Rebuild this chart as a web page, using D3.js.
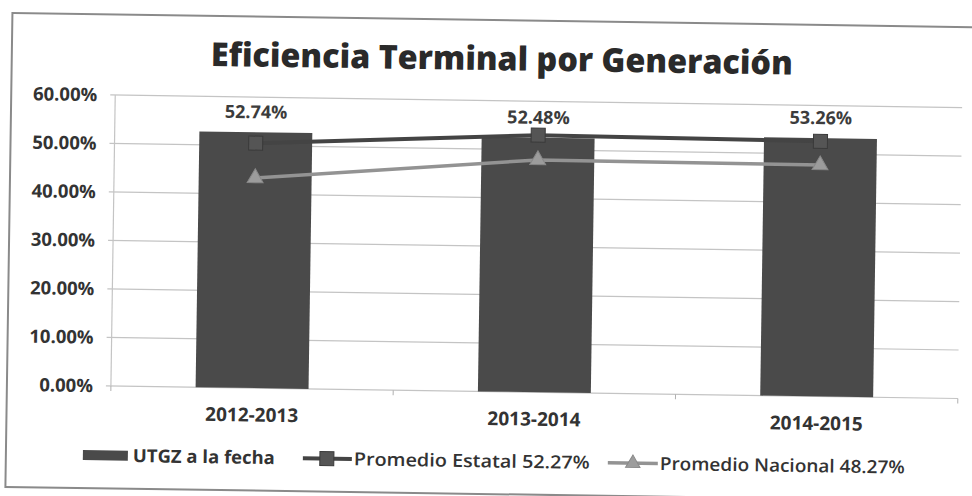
<!DOCTYPE html>
<html>
<head>
<meta charset="utf-8">
<script src="https://cdn.jsdelivr.net/npm/d3@7/dist/d3.min.js"></script>
<style>
  html, body { margin: 0; padding: 0; background: #ffffff; }
  svg { display: block; }
  text { font-family: "Open Sans", "DejaVu Sans", sans-serif; }
</style>
</head>
<body>
<svg id="chart" width="972" height="496"></svg>
<script>
// ---- data ----
const title = "Eficiencia Terminal por Generación";
const categories = ["2012-2013", "2013-2014", "2014-2015"];
const utgz = [52.74, 52.48, 53.26];
const estatal = [50.5, 53.0, 52.6];
const nacional = [43.3, 47.9, 47.7];
const yTicks = [0, 10, 20, 30, 40, 50, 60];
const legendLabels = ["UTGZ a la fecha", "Promedio Estatal 52.27%", "Promedio Nacional 48.27%"];

// ---- layout ----
const W = 972, H = 496;
const plot = { left: 113, right: 960, top: 100.5, bottom: 391.5 };
const cBar = "#4a4a4a", cEst = "#444444", cNac = "#939393", cText = "#333333";

const svg = d3.select("#chart");
// scanned page is slightly tilted
const root = svg.append("g").attr("transform", "rotate(0.85," + W / 2 + "," + H / 2 + ")");

// frame
root.append("rect").attr("x", 9).attr("y", 20).attr("width", 1030).attr("height", 474)
  .attr("fill", "none").attr("stroke", "#8a8a8a").attr("stroke-width", 2);

const x = d3.scaleBand().domain(categories).range([plot.left, plot.right])
  .paddingInner(0.6).paddingOuter(0.3);
const y = d3.scaleLinear().domain([0, 60]).range([plot.bottom, plot.top]);

// title
root.append("text").attr("x", 499).attr("y", 70).attr("text-anchor", "middle")
  .attr("font-size", 33).attr("font-weight", 800).attr("fill", "#2a2a2a")
  .attr("textLength", 582).attr("lengthAdjust", "spacingAndGlyphs")
  .text(title);

// gridlines
root.append("g").selectAll("line").data(yTicks).join("line")
  .attr("x1", plot.left - 5).attr("x2", plot.right)
  .attr("y1", d => y(d)).attr("y2", d => y(d))
  .attr("stroke", "#c4c4c4").attr("stroke-width", 1.2);

// y axis line
root.append("line").attr("x1", plot.left).attr("x2", plot.left)
  .attr("y1", plot.top).attr("y2", plot.bottom)
  .attr("stroke", "#c4c4c4").attr("stroke-width", 1.2);

// y tick labels
root.append("g").selectAll("text").data(yTicks).join("text")
  .attr("x", 95).attr("y", d => y(d)).attr("dy", "0.35em")
  .attr("text-anchor", "end").attr("font-size", 18.5).attr("font-weight", 700)
  .attr("fill", cText)
  .text(d => d3.format(".2f")(d) + "%");

// x axis category ticks
const bounds = [plot.left, ...categories.slice(1).map(c => x(c) - x.step() * x.paddingInner() / 2), plot.right];
root.append("g").selectAll("line").data(bounds).join("line")
  .attr("x1", d => d).attr("x2", d => d)
  .attr("y1", plot.bottom).attr("y2", plot.bottom + 5)
  .attr("stroke", "#b0b0b0");

// bars
root.append("g").selectAll("rect").data(categories).join("rect")
  .attr("x", d => x(d)).attr("width", x.bandwidth())
  .attr("y", (d, i) => y(utgz[i])).attr("height", (d, i) => y(0) - y(utgz[i]))
  .attr("fill", cBar);

// bar value labels
root.append("g").selectAll("text").data(categories).join("text")
  .attr("x", d => x(d) + x.bandwidth() / 2)
  .attr("y", (d, i) => y(utgz[i]) - 14)
  .attr("text-anchor", "middle").attr("font-size", 18).attr("font-weight", 700)
  .attr("fill", "#3c3c3c")
  .text((d, i) => utgz[i].toFixed(2) + "%");

// x labels
root.append("g").selectAll("text").data(categories).join("text")
  .attr("x", d => x(d) + x.bandwidth() / 2).attr("y", 425)
  .attr("text-anchor", "middle").attr("font-size", 19).attr("font-weight", 700)
  .attr("fill", cText)
  .text(d => d);

const cx = c => x(c) + x.bandwidth() / 2;
const line = d3.line().x(d => cx(d.c)).y(d => y(d.v));

// Nacional line
const nacData = categories.map((c, i) => ({ c, v: nacional[i] }));
root.append("path").datum(nacData).attr("d", line)
  .attr("fill", "none").attr("stroke", cNac).attr("stroke-width", 3.5);
root.append("g").selectAll("path").data(nacData).join("path")
  .attr("transform", d => `translate(${cx(d.c)},${y(d.v)})`)
  .attr("d", d3.symbol(d3.symbolTriangle, 110))
  .attr("fill", "#9c9c9c").attr("stroke", "#888").attr("stroke-width", 1);

// Estatal line
const estData = categories.map((c, i) => ({ c, v: estatal[i] }));
root.append("path").datum(estData).attr("d", line)
  .attr("fill", "none").attr("stroke", cEst).attr("stroke-width", 4);
root.append("g").selectAll("rect").data(estData).join("rect")
  .attr("x", d => cx(d.c) - 7).attr("y", d => y(d.v) - 7)
  .attr("width", 14).attr("height", 14)
  .attr("fill", "#555").attr("stroke", "#3a3a3a").attr("stroke-width", 1);

// legend
const lg = root.append("g");
const ly = 461;
// UTGZ
lg.append("rect").attr("x", 86).attr("y", ly - 5).attr("width", 45).attr("height", 10).attr("fill", cBar);
lg.append("text").attr("x", 136).attr("y", ly).attr("dy", "0.35em")
  .attr("font-size", 18).attr("font-weight", 700).attr("fill", cText)
  .attr("textLength", 142).attr("lengthAdjust", "spacingAndGlyphs")
  .text(legendLabels[0]);
// Estatal
lg.append("line").attr("x1", 306).attr("x2", 355).attr("y1", ly).attr("y2", ly)
  .attr("stroke", cEst).attr("stroke-width", 4);
lg.append("rect").attr("x", 323).attr("y", ly - 7).attr("width", 14).attr("height", 14)
  .attr("fill", "#555").attr("stroke", "#3a3a3a");
lg.append("text").attr("x", 357).attr("y", ly).attr("dy", "0.35em")
  .attr("font-size", 18).attr("font-weight", 600).attr("fill", cText)
  .attr("textLength", 236).attr("lengthAdjust", "spacingAndGlyphs")
  .text(legendLabels[1]);
// Nacional
lg.append("line").attr("x1", 611).attr("x2", 661).attr("y1", ly).attr("y2", ly)
  .attr("stroke", cNac).attr("stroke-width", 3.5);
lg.append("path").attr("transform", `translate(636,${ly})`)
  .attr("d", d3.symbol(d3.symbolTriangle, 90))
  .attr("fill", "#9c9c9c").attr("stroke", "#888");
lg.append("text").attr("x", 663).attr("y", ly).attr("dy", "0.35em")
  .attr("font-size", 18).attr("font-weight", 600).attr("fill", cText)
  .attr("textLength", 245).attr("lengthAdjust", "spacingAndGlyphs")
  .text(legendLabels[2]);
</script>
</body>
</html>
